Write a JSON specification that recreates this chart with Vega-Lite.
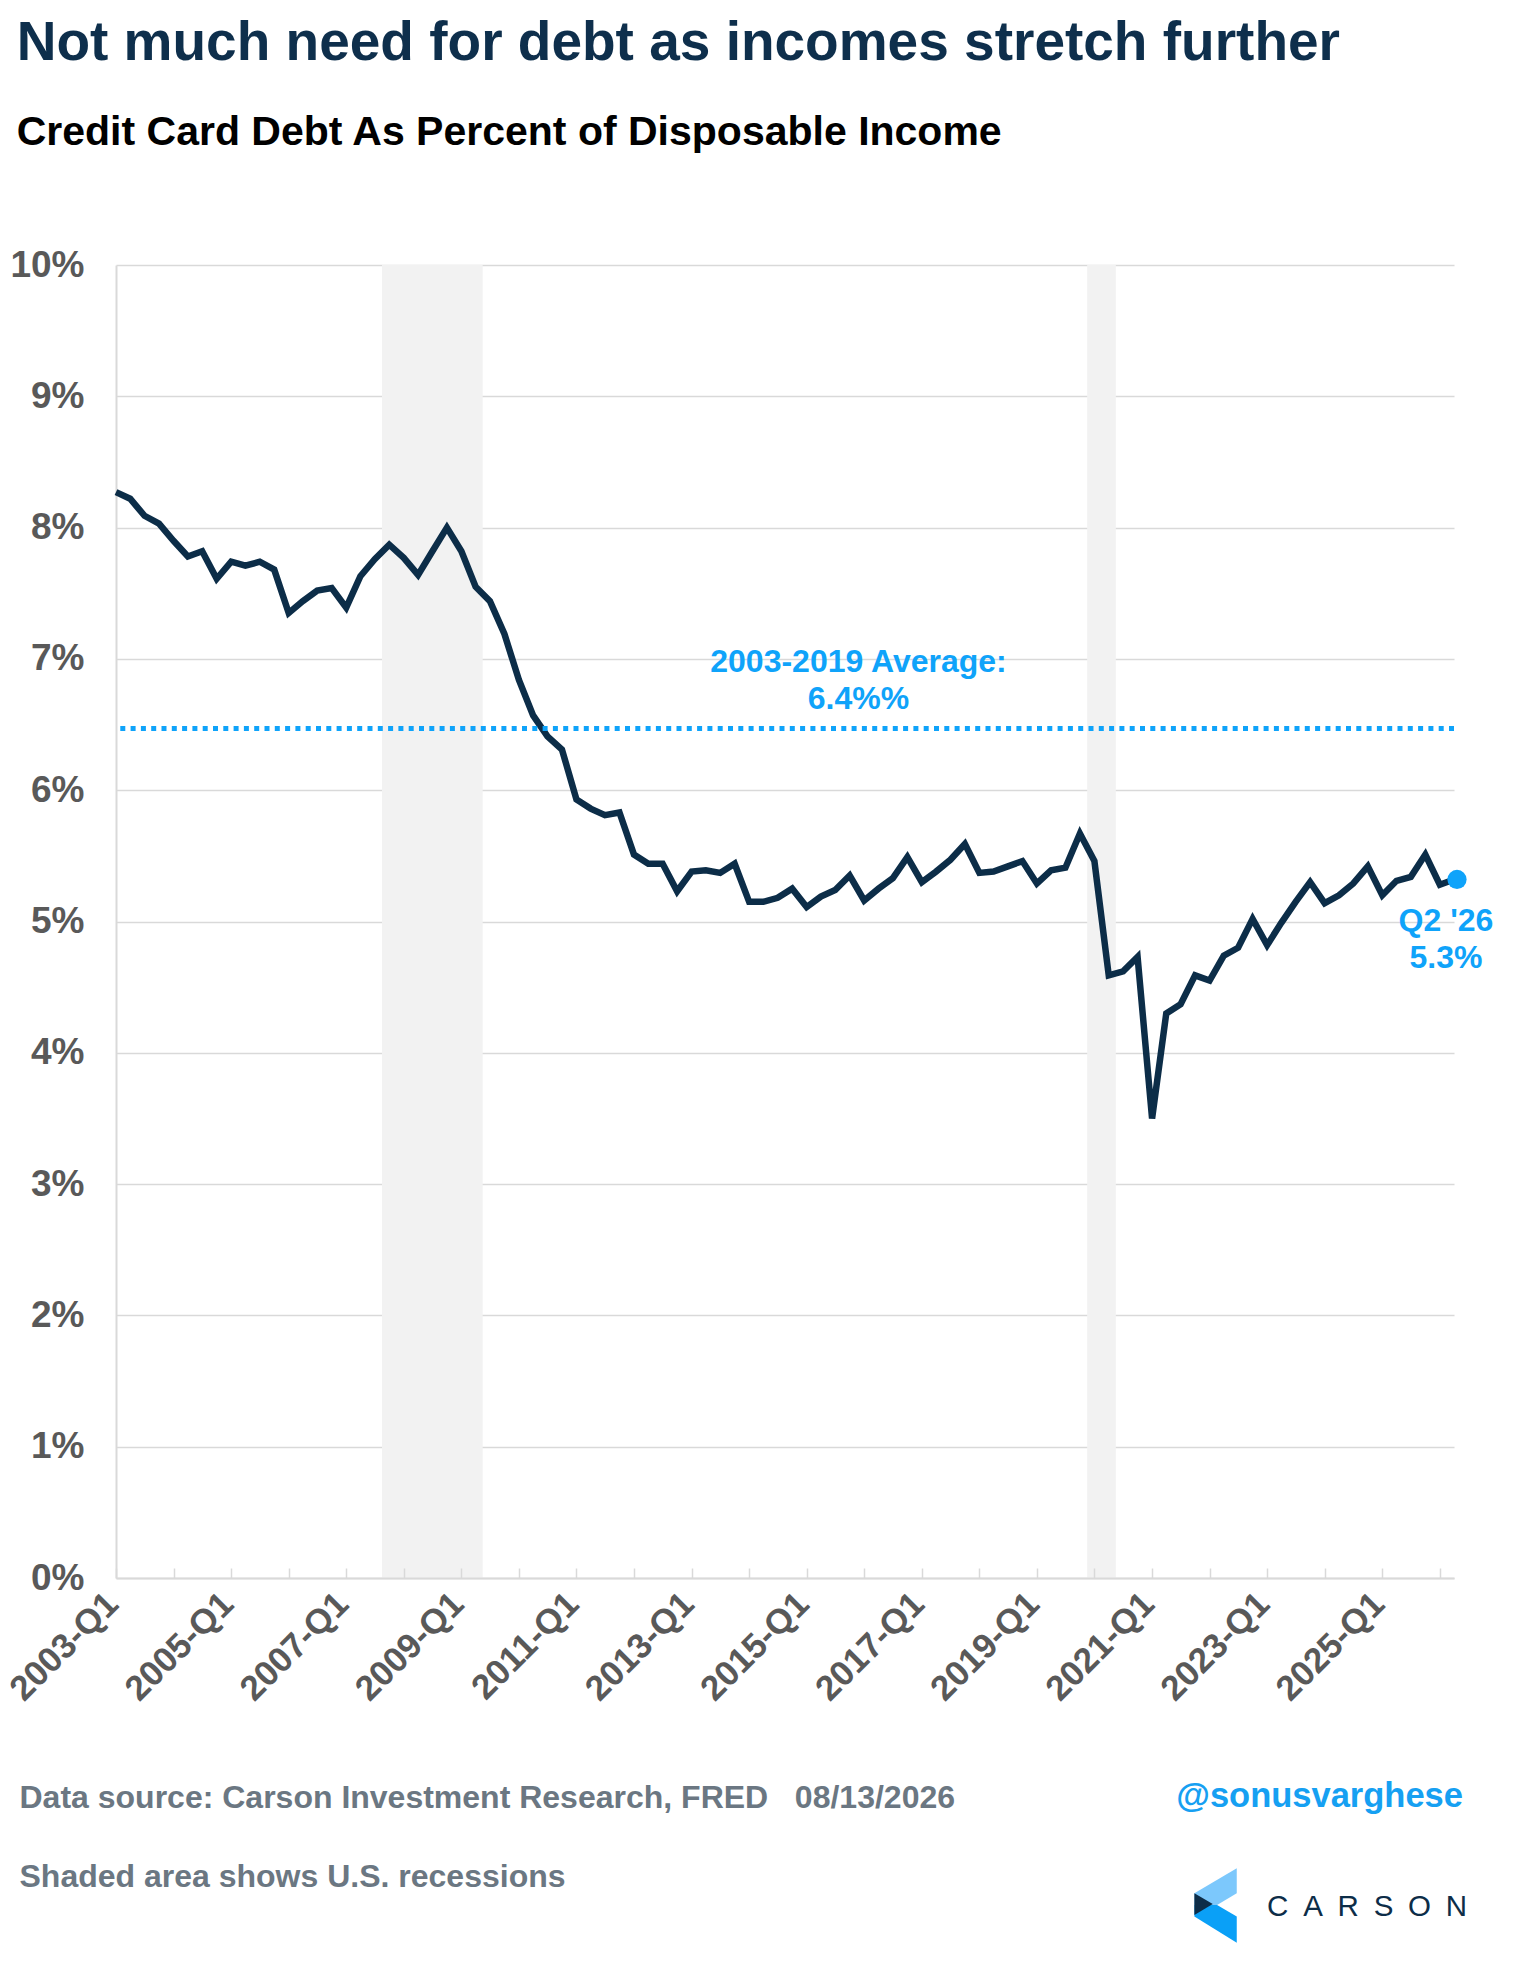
{
  "$schema": "https://vega.github.io/schema/vega-lite/v6.json",
  "width": 1338,
  "height": 1313,
  "padding": {"left": 3, "top": 16, "right": 10, "bottom": 10},
  "background": "#ffffff",
  "config": {"font": "Liberation Sans", "view": {"stroke": null}},
  "title": {
    "text": "Not much need for debt as incomes stretch further",
    "subtitle": "\u2006Credit Card Debt As Percent of Disposable Income",
    "anchor": "start",
    "frame": "bounds",
    "font": "Liberation Sans",
    "fontSize": 55,
    "fontWeight": "bold",
    "color": "#0e2f4c",
    "subtitleFont": "Liberation Sans",
    "subtitleFontSize": 41,
    "subtitleFontWeight": "bold",
    "subtitleColor": "#000000",
    "subtitlePadding": 41,
    "offset": 92,
    "dx": 13
  },
  "data": {
    "values": [
      {"date": "2003-01-01", "pct": 8.27},
      {"date": "2003-04-01", "pct": 8.22},
      {"date": "2003-07-01", "pct": 8.09},
      {"date": "2003-10-01", "pct": 8.03},
      {"date": "2004-01-01", "pct": 7.90},
      {"date": "2004-04-01", "pct": 7.78},
      {"date": "2004-07-01", "pct": 7.82},
      {"date": "2004-10-01", "pct": 7.61},
      {"date": "2005-01-01", "pct": 7.74},
      {"date": "2005-04-01", "pct": 7.71},
      {"date": "2005-07-01", "pct": 7.74},
      {"date": "2005-10-01", "pct": 7.68},
      {"date": "2006-01-01", "pct": 7.35},
      {"date": "2006-04-01", "pct": 7.44},
      {"date": "2006-07-01", "pct": 7.52},
      {"date": "2006-10-01", "pct": 7.54},
      {"date": "2007-01-01", "pct": 7.39},
      {"date": "2007-04-01", "pct": 7.63},
      {"date": "2007-07-01", "pct": 7.76},
      {"date": "2007-10-01", "pct": 7.87},
      {"date": "2008-01-01", "pct": 7.77},
      {"date": "2008-04-01", "pct": 7.64},
      {"date": "2008-07-01", "pct": 7.82},
      {"date": "2008-10-01", "pct": 8.00},
      {"date": "2009-01-01", "pct": 7.82},
      {"date": "2009-04-01", "pct": 7.55},
      {"date": "2009-07-01", "pct": 7.44},
      {"date": "2009-10-01", "pct": 7.19},
      {"date": "2010-01-01", "pct": 6.84},
      {"date": "2010-04-01", "pct": 6.57},
      {"date": "2010-07-01", "pct": 6.41},
      {"date": "2010-10-01", "pct": 6.31},
      {"date": "2011-01-01", "pct": 5.93},
      {"date": "2011-04-01", "pct": 5.86},
      {"date": "2011-07-01", "pct": 5.81},
      {"date": "2011-10-01", "pct": 5.83},
      {"date": "2012-01-01", "pct": 5.51},
      {"date": "2012-04-01", "pct": 5.44},
      {"date": "2012-07-01", "pct": 5.44},
      {"date": "2012-10-01", "pct": 5.23},
      {"date": "2013-01-01", "pct": 5.38},
      {"date": "2013-04-01", "pct": 5.39},
      {"date": "2013-07-01", "pct": 5.37},
      {"date": "2013-10-01", "pct": 5.44},
      {"date": "2014-01-01", "pct": 5.15},
      {"date": "2014-04-01", "pct": 5.15},
      {"date": "2014-07-01", "pct": 5.18},
      {"date": "2014-10-01", "pct": 5.25},
      {"date": "2015-01-01", "pct": 5.11},
      {"date": "2015-04-01", "pct": 5.19},
      {"date": "2015-07-01", "pct": 5.24},
      {"date": "2015-10-01", "pct": 5.35},
      {"date": "2016-01-01", "pct": 5.16},
      {"date": "2016-04-01", "pct": 5.25},
      {"date": "2016-07-01", "pct": 5.33},
      {"date": "2016-10-01", "pct": 5.49},
      {"date": "2017-01-01", "pct": 5.30},
      {"date": "2017-04-01", "pct": 5.38},
      {"date": "2017-07-01", "pct": 5.47},
      {"date": "2017-10-01", "pct": 5.59},
      {"date": "2018-01-01", "pct": 5.37},
      {"date": "2018-04-01", "pct": 5.38},
      {"date": "2018-07-01", "pct": 5.42},
      {"date": "2018-10-01", "pct": 5.46},
      {"date": "2019-01-01", "pct": 5.29},
      {"date": "2019-04-01", "pct": 5.39},
      {"date": "2019-07-01", "pct": 5.41},
      {"date": "2019-10-01", "pct": 5.67},
      {"date": "2020-01-01", "pct": 5.46},
      {"date": "2020-04-01", "pct": 4.59},
      {"date": "2020-07-01", "pct": 4.62},
      {"date": "2020-10-01", "pct": 4.73},
      {"date": "2021-01-01", "pct": 3.50},
      {"date": "2021-04-01", "pct": 4.30},
      {"date": "2021-07-01", "pct": 4.37},
      {"date": "2021-10-01", "pct": 4.59},
      {"date": "2022-01-01", "pct": 4.55},
      {"date": "2022-04-01", "pct": 4.74},
      {"date": "2022-07-01", "pct": 4.80},
      {"date": "2022-10-01", "pct": 5.02},
      {"date": "2023-01-01", "pct": 4.82},
      {"date": "2023-04-01", "pct": 4.99},
      {"date": "2023-07-01", "pct": 5.15},
      {"date": "2023-10-01", "pct": 5.30},
      {"date": "2024-01-01", "pct": 5.14},
      {"date": "2024-04-01", "pct": 5.20},
      {"date": "2024-07-01", "pct": 5.29},
      {"date": "2024-10-01", "pct": 5.42},
      {"date": "2025-01-01", "pct": 5.20},
      {"date": "2025-04-01", "pct": 5.31},
      {"date": "2025-07-01", "pct": 5.34},
      {"date": "2025-10-01", "pct": 5.51},
      {"date": "2026-01-01", "pct": 5.28},
      {"date": "2026-04-01", "pct": 5.32}
    ]
  },
  "layer": [
    {
      "data": {
        "values": [
          {"start": "2007-08-16", "end": "2009-05-16"},
          {"start": "2019-11-16", "end": "2020-05-16"}
        ]
      },
      "mark": {"type": "rect", "color": "#f2f2f2"},
      "encoding": {
        "x": {"field": "start", "type": "temporal"},
        "x2": {"field": "end"}
      }
    },
    {
      "mark": {"type": "line", "color": "#0c2d48", "strokeWidth": 6.5},
      "encoding": {
        "x": {
          "field": "date",
          "type": "temporal",
          "scale": {
            "type": "utc",
            "domain": [
              {"year": 2003, "month": 1, "date": 1, "utc": true},
              {"year": 2026, "month": 4, "date": 1, "utc": true}
            ],
            "nice": false
          },
          "axis": {
            "zindex": 1,
            "grid": false,
            "tickCount": {"interval": "year", "step": 1},
            "labelExpr": "utcyear(datum.value) % 2 == 1 ? utcFormat(datum.value, '%Y') + '-Q1' : ''",
            "labelOverlap": false,
            "labelFlush": false,
            "labelAngle": -45,
            "labelAlign": "right",
            "labelBaseline": "top",
            "labelFont": "Liberation Sans",
            "labelFontSize": 35,
            "labelFontWeight": "bold",
            "labelColor": "#595959",
            "labelPadding": 18,
            "labelOffset": -16,
            "tickSize": -10,
            "tickColor": "#d9d9d9",
            "tickWidth": 1.5,
            "domainColor": "#d9d9d9",
            "domainWidth": 2,
            "title": [
              "Data source: Carson Investment Research, FRED\u00a0\u00a0\u00a008/13/2026",
              "Shaded area shows U.S. recessions"
            ],
            "titleX": -97,
            "titleY": 229,
            "titleAlign": "left",
            "titleBaseline": "alphabetic",
            "titleAngle": 0,
            "titleFont": "Liberation Sans",
            "titleFontSize": 32,
            "titleFontWeight": "bold",
            "titleColor": "#6b7782",
            "titleLineHeight": 79
          }
        },
        "y": {
          "field": "pct",
          "type": "quantitative",
          "scale": {"domain": [0, 10], "nice": false, "zero": true},
          "axis": {
            "zindex": 0,
            "values": [0, 1, 2, 3, 4, 5, 6, 7, 8, 9, 10],
            "labelExpr": "datum.value + '%'",
            "labelFont": "Liberation Sans",
            "labelFontSize": 37,
            "labelFontWeight": "bold",
            "labelColor": "#595959",
            "labelPadding": 32,
            "ticks": false,
            "grid": true,
            "gridColor": "#d9d9d9",
            "gridWidth": 1.5,
            "domainColor": "#d9d9d9",
            "domainWidth": 2,
            "title": null
          }
        }
      }
    },
    {
      "data": {"values": [{}]},
      "mark": {
        "type": "rule",
        "color": "#0fa3fa",
        "strokeWidth": 5,
        "strokeDash": [5, 5.3],
        "strokeCap": "butt"
      },
      "encoding": {
        "y": {"datum": 6.47, "type": "quantitative"}
      }
    },
    {
      "data": {"values": [{}]},
      "mark": {
        "type": "text",
        "text": ["2003-2019 Average:", "6.4%%"],
        "font": "Liberation Sans",
        "fontSize": 32,
        "fontWeight": "bold",
        "color": "#0fa3fa",
        "align": "center",
        "baseline": "alphabetic",
        "lineHeight": 37,
        "dy": -56
      },
      "encoding": {
        "x": {"datum": {"year": 2015, "month": 11, "date": 26, "utc": true}, "type": "temporal"},
        "y": {"datum": 6.47, "type": "quantitative"}
      }
    },
    {
      "transform": [
        {"window": [{"op": "row_number", "as": "rank"}], "sort": [{"field": "date", "order": "descending"}]},
        {"filter": "datum.rank == 1"}
      ],
      "encoding": {
        "x": {"field": "date", "type": "temporal"},
        "y": {"field": "pct", "type": "quantitative"}
      },
      "layer": [
        {
          "mark": {"type": "circle", "size": 370, "color": "#0fa3fa", "opacity": 1, "xOffset": 3}
        },
        {
          "mark": {
            "type": "text",
            "text": ["Q2 '26", "5.3%"],
            "font": "Liberation Sans",
            "fontSize": 32,
            "fontWeight": "bold",
            "color": "#0fa3fa",
            "align": "center",
            "baseline": "alphabetic",
            "lineHeight": 37,
            "dx": -8,
            "dy": 52
          }
        }
      ]
    },
    {
      "data": {"values": [{}]},
      "mark": {
        "type": "text",
        "text": "@sonusvarghese",
        "font": "Liberation Sans",
        "fontSize": 34.5,
        "fontWeight": "bold",
        "color": "#16a0f2",
        "align": "right",
        "baseline": "alphabetic",
        "dx": 9
      },
      "encoding": {
        "x": {"datum": {"year": 2026, "month": 4, "date": 1, "utc": true}, "type": "temporal"},
        "y": {"datum": -1.744, "type": "quantitative"}
      }
    },
    {
      "data": {"values": [{}]},
      "mark": {
        "type": "point",
        "filled": true,
        "opacity": 1,
        "size": 5525,
        "color": "#7cc8fc",
        "strokeWidth": 0,
        "shape": "M -0.57 -0.327 L 0.57 -1 L 0.57 -0.327 L 0.04 -0.013 L -0.57 -0.013 Z"
      },
      "encoding": {
        "x": {"datum": {"year": 2022, "month": 2, "date": 8, "utc": true}, "type": "temporal"},
        "y": {"datum": -2.494, "type": "quantitative"}
      }
    },
    {
      "data": {"values": [{}]},
      "mark": {
        "type": "point",
        "filled": true,
        "opacity": 1,
        "size": 5525,
        "color": "#0aa0f7",
        "strokeWidth": 0,
        "shape": "M -0.57 -0.013 L 0.04 -0.013 L 0.57 0.3 L 0.57 1 L -0.57 0.3 Z"
      },
      "encoding": {
        "x": {"datum": {"year": 2022, "month": 2, "date": 8, "utc": true}, "type": "temporal"},
        "y": {"datum": -2.494, "type": "quantitative"}
      }
    },
    {
      "data": {"values": [{}]},
      "mark": {
        "type": "point",
        "filled": true,
        "opacity": 1,
        "size": 5525,
        "color": "#0d2d48",
        "strokeWidth": 0,
        "shape": "M -0.57 -0.327 L -0.076 -0.04 L -0.57 0.256 Z"
      },
      "encoding": {
        "x": {"datum": {"year": 2022, "month": 2, "date": 8, "utc": true}, "type": "temporal"},
        "y": {"datum": -2.494, "type": "quantitative"}
      }
    },
    {
      "data": {"values": [{}]},
      "mark": {
        "type": "text",
        "text": "C\u2002A\u2002R\u2002S\u2002O\u2002N",
        "font": "Liberation Sans",
        "fontSize": 29.5,
        "fontWeight": "normal",
        "color": "#0d2d48",
        "align": "left",
        "baseline": "alphabetic"
      },
      "encoding": {
        "x": {"datum": {"year": 2023, "month": 1, "date": 1, "utc": true}, "type": "temporal"},
        "y": {"datum": -2.574, "type": "quantitative"}
      }
    }
  ]
}
